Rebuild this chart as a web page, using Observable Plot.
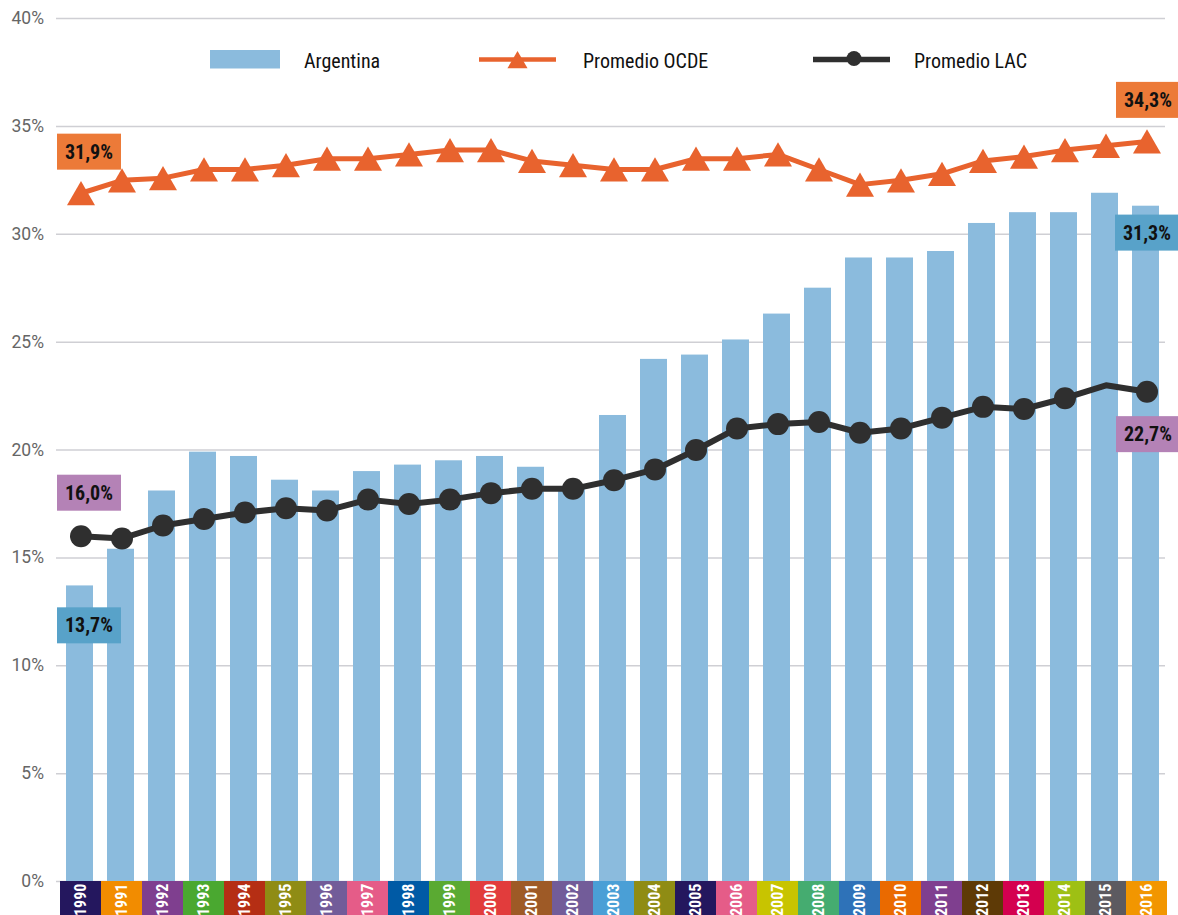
<!DOCTYPE html>
<html><head><meta charset="utf-8">
<script src="https://cdn.jsdelivr.net/npm/d3@7"></script>
<script src="https://cdn.jsdelivr.net/npm/@observablehq/plot@0.6"></script>
<style>
html,body{margin:0;padding:0;background:#fff;overflow:hidden}
</style></head><body><div id="chart"></div>
<script>
const years = [1990,1991,1992,1993,1994,1995,1996,1997,1998,1999,2000,2001,2002,2003,2004,2005,2006,2007,2008,2009,2010,2011,2012,2013,2014,2015,2016];
const argentina = [13.7,15.4,18.1,19.9,19.7,18.6,18.1,19.0,19.3,19.5,19.7,19.2,18.2,21.6,24.2,24.4,25.1,26.3,27.5,28.9,28.9,29.2,30.5,31.0,31.0,31.9,31.3];
const ocde = [31.9,32.5,32.6,33.0,33.0,33.2,33.5,33.5,33.7,33.9,33.9,33.4,33.2,33.0,33.0,33.5,33.5,33.7,33.0,32.3,32.5,32.8,33.4,33.6,33.9,34.1,34.3];
const lac = [16.0,15.9,16.5,16.8,17.1,17.3,17.2,17.7,17.5,17.7,18.0,18.2,18.2,18.6,19.1,20.0,21.0,21.2,21.3,20.8,21.0,21.5,22.0,21.9,22.4,23.0,22.7];
const lacMarkerYears = years.filter(y => y !== 2015);
const yearColors = ["#24175e","#f28c00","#7f3f8f","#4aa830","#b52e14","#8f8c14","#725c99","#e55c88","#005aa5","#5aaa32","#e23c3c","#9e5a26","#725c99","#4a9fd6","#8f8c14","#24175e","#e55c88","#c8c400","#45ac70","#2e72b8","#ea6a00","#7f3f8f","#5e3a06","#d4004f","#9ec014","#5c5a60","#f29600"];
const yTicks = [0,5,10,15,20,25,30,35,40];
const seriesNames = ["Argentina","Promedio OCDE","Promedio LAC"];

const FONT = '"Roboto Condensed","Liberation Sans Narrow","Arial Narrow","DejaVu Sans Condensed",Roboto,sans-serif';
const C_BAR = "#8bbbdd", C_OCDE = "#e8632e", C_LAC = "#2f2f2f";
const C_B_ORANGE = "#ec7a38", C_B_PURPLE = "#b482b6", C_B_BLUE = "#58a2c9";

const rows = years.map((y, i) => ({year: String(y), arg: argentina[i], ocde: ocde[i], lac: lac[i], color: yearColors[i]}));
const first = rows[0], last = rows[rows.length - 1];
const fmt = v => d3.format(".1f")(v).replace(".", ",") + "%";

const badgeColors = {};
badgeColors[fmt(first.ocde)] = C_B_ORANGE;
badgeColors[fmt(first.lac)] = C_B_PURPLE;
badgeColors[fmt(first.arg)] = C_B_BLUE;
badgeColors[fmt(last.ocde)] = C_B_ORANGE;
badgeColors[fmt(last.lac)] = C_B_PURPLE;
badgeColors[fmt(last.arg)] = C_B_BLUE;

const badgeStyle = {fontSize: 20, fontWeight: "bold", fill: "#111", textAnchor: "middle"};

const chart = Plot.plot({
  width: 1178,
  height: 915,
  marginTop: 18,
  marginBottom: 34,
  marginLeft: 60,
  marginRight: 11,
  style: {fontFamily: FONT, background: "#fff", overflow: "visible"},
  x: {type: "band", domain: years.map(String), paddingInner: 0, paddingOuter: 0, axis: null},
  y: {domain: [0, 40], axis: null},
  marks: [
    Plot.ruleY(yTicks, {stroke: "#cfcfd4", strokeWidth: 1.5, insetLeft: -4, insetRight: 2}),
    Plot.text(yTicks, {x: () => "1990", y: d => d, text: d => d + "%", frameAnchor: "left", textAnchor: "end", dx: -37, fontSize: 17.5, fill: "#666", fontFamily: "Roboto, sans-serif"}),
    Plot.barY(rows, {x: "year", y: "arg", fill: C_BAR, insetLeft: 6, insetRight: 8}),
    Plot.barY(rows, {x: "year", y1: 0, y2: -1.65, fill: "color", clip: false}),
    Plot.text(rows, {x: "year", y: -0.1, text: "year", rotate: -90, textAnchor: "end", fill: "#fff", fontWeight: "bold", fontSize: 16}),
    Plot.line(rows, {x: "year", y: "ocde", stroke: C_OCDE, strokeWidth: 5}),
    Plot.dot(rows, {x: "year", y: "ocde", symbol: "triangle", r: 10.4, fill: C_OCDE, stroke: null, dy: 4}),
    Plot.line(rows, {x: "year", y: "lac", stroke: C_LAC, strokeWidth: 6}),
    Plot.dot(rows.filter(d => lacMarkerYears.includes(+d.year)), {x: "year", y: "lac", r: 11, fill: C_LAC, stroke: null}),
    Plot.text([first], {x: "year", y: "ocde", text: d => fmt(d.ocde), dx: 8, dy: -41, ...badgeStyle}),
    Plot.text([first], {x: "year", y: "lac", text: d => fmt(d.lac), dx: 8, dy: -43, ...badgeStyle}),
    Plot.text([first], {x: "year", y: "arg", text: d => fmt(d.arg), dx: 8, dy: 40, ...badgeStyle}),
    Plot.text([last], {x: "year", y: "ocde", text: d => fmt(d.ocde), dx: 1, dy: -41, ...badgeStyle}),
    Plot.text([last], {x: "year", y: "arg", text: d => fmt(d.arg), dx: 0, dy: 27, ...badgeStyle}),
    Plot.text([last], {x: "year", y: "lac", text: d => fmt(d.lac), dx: 1, dy: 43, ...badgeStyle})
  ]
});
document.getElementById("chart").appendChild(chart);

const svg = d3.select(chart);

// badge backgrounds
svg.selectAll("text").each(function() {
  const t = this.textContent;
  if (!badgeColors[t] || !t.includes(",")) return;
  const b = this.getBBox();
  const padX = 8, h = 36;
  const cy = b.y + b.height / 2;
  const r = document.createElementNS("http://www.w3.org/2000/svg", "rect");
  r.setAttribute("x", b.x - padX);
  r.setAttribute("y", cy - h / 2);
  r.setAttribute("width", b.width + 2 * padX);
  r.setAttribute("height", h);
  r.setAttribute("fill", badgeColors[t]);
  const tr = this.getAttribute("transform");
  if (tr) r.setAttribute("transform", tr);
  this.parentNode.insertBefore(r, this);
});

// legend
const lg = svg.append("g").attr("font-family", FONT).attr("font-size", 20).attr("fill", "#111").attr("text-anchor", "start");
const ly = 59.5;
lg.append("rect").attr("x", 210).attr("y", 50).attr("width", 70).attr("height", 18.5).attr("fill", C_BAR);
lg.append("text").attr("x", 304).attr("y", ly + 1.5).attr("dy", "0.35em").text(seriesNames[0]);
lg.append("line").attr("x1", 479).attr("x2", 556).attr("y1", ly).attr("y2", ly).attr("stroke", C_OCDE).attr("stroke-width", 4.5);
lg.append("path").attr("d", d3.symbol(d3.symbolTriangle, 175)()).attr("transform", `translate(517.5,${ly + 3})`).attr("fill", C_OCDE);
lg.append("text").attr("x", 583).attr("y", ly + 1.5).attr("dy", "0.35em").text(seriesNames[1]);
lg.append("line").attr("x1", 813).attr("x2", 890).attr("y1", ly).attr("y2", ly).attr("stroke", C_LAC).attr("stroke-width", 5.5);
lg.append("circle").attr("cx", 854).attr("cy", ly - 1).attr("r", 7.5).attr("fill", C_LAC);
lg.append("text").attr("x", 914).attr("y", ly + 1.5).attr("dy", "0.35em").text(seriesNames[2]);
</script>
</body></html>
